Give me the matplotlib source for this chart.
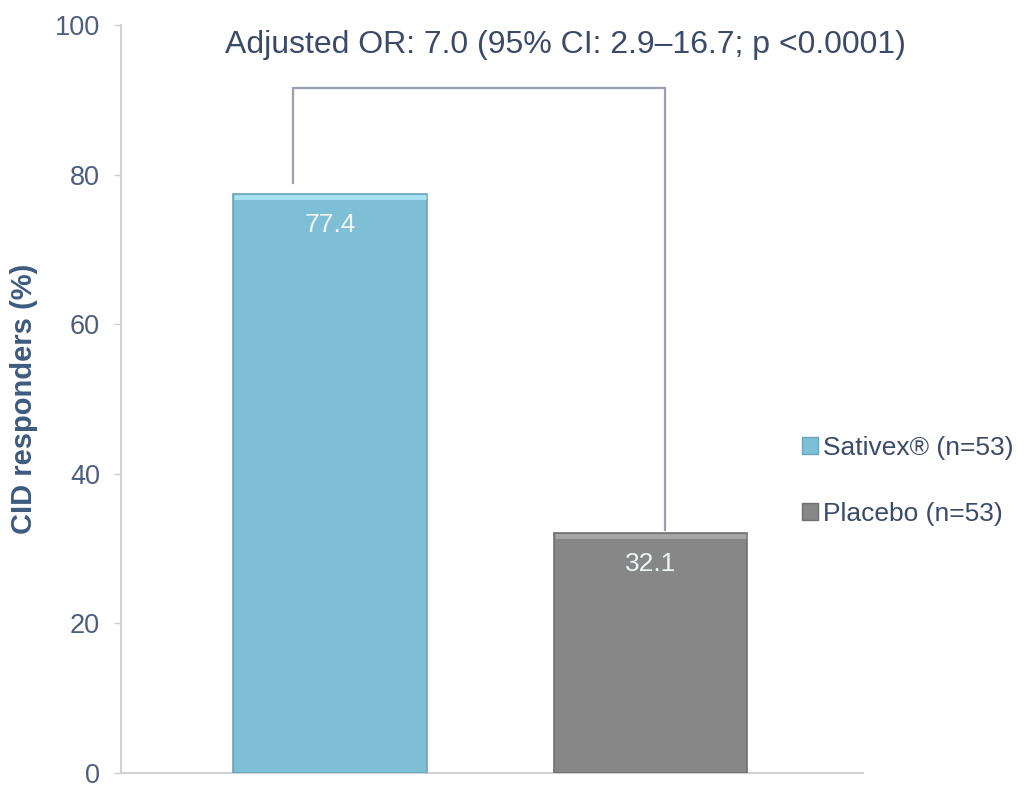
import matplotlib.pyplot as plt
from matplotlib.patches import Patch

groups = ["Sativex® (n=53)", "Placebo (n=53)"]
responders = [77.4, 32.1]
value_labels = ["77.4", "32.1"]
yticks = [0, 20, 40, 60, 80, 100]
annotation = "Adjusted OR: 7.0 (95% CI: 2.9–16.7; p <0.0001)"

bar_colors = ["#7fbfd5", "#878787"]
edge_colors = ["#6aa6ba", "#707070"]
top_colors = ["#a9e2f2", "#a6a6a6"]
text_color = "#3b4a68"
label_color = "#3d5a80"

plt.rcParams["font.family"] = ["Liberation Sans", "DejaVu Sans"]

fig = plt.figure(figsize=(10.26, 7.85), dpi=100)
# y=0 sits at 773 px, y=100 at 25 px; x axis runs from 121 px to 863 px
ax = fig.add_axes([121 / 1026, 1 - 773 / 785, (863 - 121) / 1026, (773 - 25) / 785])

x = [0, 1]
width = 0.605
ax.bar(x, responders, width=width, color=bar_colors,
       edgecolor=edge_colors, linewidth=1.2, zorder=3)

# light bevel on the top of each bar
for xi, v, c in zip(x, responders, top_colors):
    ax.hlines(v - 0.35, xi - width / 2 + 0.004, xi + width / 2 - 0.004,
              color=c, linewidth=3.5, zorder=4)

for xi, v, lab in zip(x, responders, value_labels):
    ax.text(xi, v - 4.2, lab, ha="center", va="center", fontsize=19,
            color="#eef6f8", zorder=5)

# bracket joining the two groups
br_left, br_right, br_top = -0.115, 1.045, 91.6
ax.plot([br_left, br_left, br_right, br_right],
        [responders[0] + 1.5, br_top, br_top, responders[1] + 0.4],
        color="#9aa0b0", linewidth=1.6, zorder=2, solid_joinstyle="miter")

ax.text(0.736, 97.3, annotation, ha="center", va="center", fontsize=23,
        color=text_color)

ax.set_xlim(-0.652, 1.663)
ax.set_ylim(0, 100)
ax.set_yticks(yticks)
ax.set_yticklabels([str(t) for t in yticks], fontsize=19.5, color="#4d5d7d")
ax.set_xticks([])
ax.tick_params(axis="y", length=5, width=1, color="#cfcfcf", pad=10)

for s in ["top", "right"]:
    ax.spines[s].set_visible(False)
for s in ["left", "bottom"]:
    ax.spines[s].set_color("#d2d2d2")
    ax.spines[s].set_linewidth(1.5)

ax.set_ylabel("CID responders (%)", fontsize=21, fontweight="bold",
              color=label_color, labelpad=12)

handles = [Patch(facecolor=c, edgecolor=e) for c, e in zip(bar_colors, edge_colors)]
fig.legend(handles, groups, loc="center left", bbox_to_anchor=(778 / 1026, 1 - 481 / 785),
           frameon=False, fontsize=19, handlelength=0.62, handleheight=0.62,
           handletextpad=0.2, labelspacing=1.6, labelcolor=text_color)

fig.savefig("out.png", dpi=100, facecolor="white")
